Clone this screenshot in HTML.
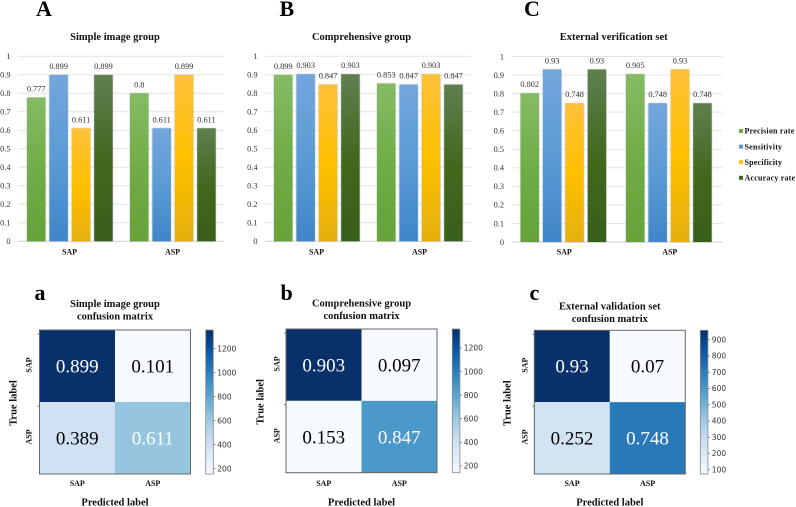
<!DOCTYPE html>
<html lang="en">
<head>
<meta charset="utf-8">
<title>SAP / ASP classification metrics and confusion matrices</title>
<style>
  html, body { margin: 0; padding: 0; background: #fff; }
  #figure { display: block; width: 796px; height: 507px; filter: blur(0.35px); }
  text { font-family: "Liberation Serif", serif; fill: #111; }
  .tick { font-size: 8.3px; fill: #333; }
  .val { font-size: 8.3px; fill: #333; text-anchor: middle; }
  .cat { font-size: 8px; font-weight: bold; text-anchor: middle; }
  .title { font-size: 10.5px; font-weight: bold; text-anchor: middle; }
  .letter { font-size: 22px; font-weight: bold; fill: #000; }
  .cell { font-size: 19px; text-anchor: middle; }
  .cbt { font-family: "DejaVu Sans", sans-serif; font-size: 7.5px; fill: #333; }
  .axl { font-size: 10.5px; font-weight: bold; text-anchor: middle; }
  .leg { font-size: 8px; font-weight: bold; letter-spacing: 0.2px; }
</style>
</head>
<body>
<svg id="figure" xmlns="http://www.w3.org/2000/svg" width="796" height="507" viewBox="0 0 796 507">
  <defs>
    <linearGradient id="g-precision" x1="0" y1="0" x2="0" y2="1">
      <stop offset="0" stop-color="#85bb65"/><stop offset="0.5" stop-color="#70ad47"/><stop offset="1" stop-color="#66a23a"/>
    </linearGradient>
    <linearGradient id="g-sensitivity" x1="0" y1="0" x2="0" y2="1">
      <stop offset="0" stop-color="#73a6dc"/><stop offset="0.5" stop-color="#5b9bd5"/><stop offset="1" stop-color="#3f86c8"/>
    </linearGradient>
    <linearGradient id="g-specificity" x1="0" y1="0" x2="0" y2="1">
      <stop offset="0" stop-color="#fdc13a"/><stop offset="0.5" stop-color="#ffc000"/><stop offset="1" stop-color="#e5b00c"/>
    </linearGradient>
    <linearGradient id="g-accuracy" x1="0" y1="0" x2="0" y2="1">
      <stop offset="0" stop-color="#5f7f50"/><stop offset="0.5" stop-color="#43681f"/><stop offset="1" stop-color="#385f1e"/>
    </linearGradient>
    <filter id="bar-shadow" x="-20%" y="-5%" width="140%" height="110%">
      <feDropShadow dx="0" dy="0" stdDeviation="0.8" flood-color="#999" flood-opacity="0.8"/>
    </filter>
  </defs>
</svg>
<script>
// ---- bar chart data ----
const barCategories = ['SAP', 'ASP'];
const metricNames = ['Precision rate', 'Sensitivity', 'Specificity', 'Accuracy rate'];
const yTickValues = [0, 0.1, 0.2, 0.3, 0.4, 0.5, 0.6, 0.7, 0.8, 0.9, 1];
const barTitles = ['Simple image group', 'Comprehensive group', 'External verification set'];
const barLetters = ['A', 'B', 'C'];
const simpleSAP = [0.777, 0.899, 0.611, 0.899];
const simpleASP = [0.8, 0.611, 0.899, 0.611];
const comprehensiveSAP = [0.899, 0.903, 0.847, 0.903];
const comprehensiveASP = [0.853, 0.847, 0.903, 0.847];
const externalSAP = [0.802, 0.93, 0.748, 0.93];
const externalASP = [0.905, 0.748, 0.93, 0.748];

// ---- confusion matrix data ----
const cmClasses = ['SAP', 'ASP'];
const cmTitles = [
  ['Simple image group', 'confusion matrix'],
  ['Comprehensive group', 'confusion matrix'],
  ['External validation set', 'confusion matrix']
];
const cmLetters = ['a', 'b', 'c'];
const cmSimple = [[0.899, 0.101], [0.389, 0.611]];
const cmComprehensive = [[0.903, 0.097], [0.153, 0.847]];
const cmExternal = [[0.93, 0.07], [0.252, 0.748]];
const countsSimple = [[1356, 156], [401, 630]];
const countsComprehensive = [[1361, 143], [157, 870]];
const countsExternal = [[958, 74], [239, 710]];
const cbTicksSimple = [200, 400, 600, 800, 1000, 1200];
const cbTicksComprehensive = [200, 400, 600, 800, 1000, 1200];
const cbTicksExternal = [100, 200, 300, 400, 500, 600, 700, 800, 900];

// ---- layout ----
const svg = document.getElementById('figure');
const NS = 'http://www.w3.org/2000/svg';
const metricKeys = ['precision', 'sensitivity', 'specificity', 'accuracy'];
const legendColors = ['#70ad47', '#5b9bd5', '#ffc000', '#43681f'];
const blues = ['#f7fbff', '#deebf7', '#c6dbef', '#9ecae1', '#6baed6', '#4292c6', '#2171b5', '#08519c', '#08306b'];

function make(tag, attrs, text) {
  const el = document.createElementNS(NS, tag);
  for (const k in attrs) el.setAttribute(k, attrs[k]);
  if (text !== undefined) el.textContent = text;
  svg.appendChild(el);
  return el;
}
function hex(c) { return [1, 3, 5].map(i => parseInt(c.substr(i, 2), 16)); }
function bluesColor(t) {
  t = Math.max(0, Math.min(1, t));
  const p = t * (blues.length - 1);
  const i = Math.min(blues.length - 2, Math.floor(p));
  const f = p - i;
  const a = hex(blues[i]), b = hex(blues[i + 1]);
  return 'rgb(' + a.map((v, n) => Math.round(v + (b[n] - v) * f)).join(',') + ')';
}

function drawBarPanel(p) {
  const yScale = v => p.y0 + (p.y1 - p.y0) * v;
  const groupWidth = (p.xEnd - p.x0) / barCategories.length;
  const barWidth = 18.5;
  const step = 22.4;
  const barLeft = (g, m) => p.x0 + g * groupWidth + 9 + m * step;

  const t = make('text', { x: p.titleX, y: 40, class: 'title' }, barTitles[p.i]);
  
  

  const l = make('text', { x: p.letterX, y: 16, class: 'letter' }, barLetters[p.i]);
  
  

  yTickValues.forEach(v => {
    const g = make('line', { x1: p.x0, x2: p.xEnd, y1: yScale(v), y2: yScale(v), stroke: v === 0 ? '#cfcfcf' : '#e4e4e4', 'stroke-width': 1 });
    
    
    const tx = make('text', { x: p.x0 - 7.5, y: yScale(v) + 2.8, class: 'tick', 'text-anchor': 'end' }, String(v));
    
    
  });

  barCategories.forEach((cat, g) => {
    p.series[g].forEach((v, m) => {
      const top = yScale(v);
      const r = make('rect', { x: barLeft(g, m), y: top, width: barWidth, height: p.y0 - top, fill: 'url(#g-' + metricKeys[m] + ')', filter: 'url(#bar-shadow)' });
      
      
      const lbl = make('text', { x: barLeft(g, m) + barWidth / 2, y: top - 6, class: 'val' }, String(v));
      
      
    });
    const c = make('text', { x: p.x0 + g * groupWidth + groupWidth / 2, y: 254.5, class: 'cat' }, cat);
    
    
  });
}

function drawMatrix(p) {
  const cw = (p.x2 - p.x1) / 2, ch = (p.y2 - p.y1) / 2;
  const flat = p.counts.flat();
  const lo = Math.min.apply(null, flat), hi = Math.max.apply(null, flat);
  const norm = c => (c - lo) / (hi - lo);
  const cbY = v => p.y2 - (v - lo) / (hi - lo) * (p.y2 - p.y1);

  const le = make('text', { x: p.letterX, y: 300, class: 'letter' }, cmLetters[p.i]);
  
  

  cmTitles[p.i].forEach((line, n) => {
    const t = make('text', { x: (p.x1 + p.x2) / 2, y: p.titleY + n * 12.7, class: 'title' }, line);
    
    
  });

  p.values.forEach((row, r) => row.forEach((v, c) => {
    const cell = make('rect', { x: p.x1 + c * cw, y: p.y1 + r * ch, width: cw, height: ch, fill: bluesColor(norm(p.counts[r][c])) });
    
    
    const tx = make('text', { x: p.x1 + (c + 0.5) * cw, y: p.y1 + (r + 0.5) * ch + 6.5, class: 'cell', style: 'fill:' + (v > 0.5 ? '#fff' : '#000') }, String(v));
    
    
  }));

  const frame = make('rect', { x: p.x1, y: p.y1, width: p.x2 - p.x1, height: p.y2 - p.y1, fill: 'none', stroke: '#666', 'stroke-width': 1 });
  
  

  cmClasses.forEach((name, n) => {
    const tk = make('line', { x1: p.x1 - 2, x2: p.x1, y1: p.y1 + 4 + n * ch, y2: p.y1 + 4 + n * ch, stroke: '#555', 'stroke-width': 0.8 });
    
    
    const xl = make('text', { x: p.x1 + (n + 0.5) * cw, y: 486, class: 'cat' }, name);
    
    
    const yy = p.y1 + (n + 0.5) * ch - 1;
    const yl = make('text', { x: p.yClassX, y: yy, class: 'cat', transform: 'rotate(-90 ' + p.yClassX + ' ' + yy + ')' }, name);
    
    
  });

  const xa = make('text', { x: (p.x1 + p.x2) / 2, y: 505.5, class: 'axl' }, 'Predicted label');
  
  
  const ym = (p.y1 + p.y2) / 2 + 1;
  const ya = make('text', { x: p.trueX, y: ym, class: 'axl', transform: 'rotate(-90 ' + p.trueX + ' ' + ym + ')' }, 'True label');
  
  

  // colorbar
  const gid = 'cb-' + p.i;
  const grad = document.createElementNS(NS, 'linearGradient');
  grad.setAttribute('id', gid);
  grad.setAttribute('x1', '0'); grad.setAttribute('y1', '1');
  grad.setAttribute('x2', '0'); grad.setAttribute('y2', '0');
  blues.forEach((col, n) => {
    const s = document.createElementNS(NS, 'stop');
    s.setAttribute('offset', n / (blues.length - 1));
    s.setAttribute('stop-color', col);
    grad.appendChild(s);
  });
  svg.querySelector('defs').appendChild(grad);
  const cb = make('rect', { x: p.cbX, y: p.y1, width: 7.6, height: p.y2 - p.y1, fill: 'url(#' + gid + ')', stroke: '#888', 'stroke-width': 0.8 });
  
  
  p.ticks.forEach(v => {
    const tk = make('line', { x1: p.cbX + 7.6, x2: p.cbX + 9.6, y1: cbY(v), y2: cbY(v), stroke: '#555', 'stroke-width': 0.7 });
    
    
    const tl = make('text', { x: p.cbX + 11.5, y: cbY(v) + 2.7, class: 'cbt' }, String(v));
    
    
  });
}

drawBarPanel({ i: 0, x0: 18, xEnd: 224, y0: 241.3, y1: 56.3, titleX: 115, letterX: 36, series: [simpleSAP, simpleASP] });
drawBarPanel({ i: 1, x0: 265, xEnd: 471, y0: 241.3, y1: 56.3, titleX: 361.5, letterX: 279.5, series: [comprehensiveSAP, comprehensiveASP] });
drawBarPanel({ i: 2, x0: 511.5, xEnd: 722.5, y0: 242, y1: 56.5, titleX: 613.7, letterX: 524, series: [externalSAP, externalASP] });

drawMatrix({ i: 0, x1: 39.5, x2: 190.5, y1: 330, y2: 474, letterX: 34.5, titleY: 307, yClassX: 31.5, trueX: 16.5, cbX: 205.7, values: cmSimple, counts: countsSimple, ticks: cbTicksSimple });
drawMatrix({ i: 1, x1: 286, x2: 437, y1: 329, y2: 472.7, letterX: 280.5, titleY: 306.5, yClassX: 279.5, trueX: 263.5, cbX: 452.3, values: cmComprehensive, counts: countsComprehensive, ticks: cbTicksComprehensive });
drawMatrix({ i: 2, x1: 534.3, x2: 685.3, y1: 330.3, y2: 474, letterX: 529.5, titleY: 309.5, yClassX: 527.5, trueX: 510.5, cbX: 700.3, values: cmExternal, counts: countsExternal, ticks: cbTicksExternal });

metricNames.forEach((name, n) => {
  const yy = 131 + n * 15.6;
  const sw = make('rect', { x: 739, y: yy - 2, width: 4, height: 4, fill: legendColors[n] });
  
  
  const tx = make('text', { x: 744.5, y: yy + 2.7, class: 'leg' }, name);
  
  
});
</script>
</body>
</html>
